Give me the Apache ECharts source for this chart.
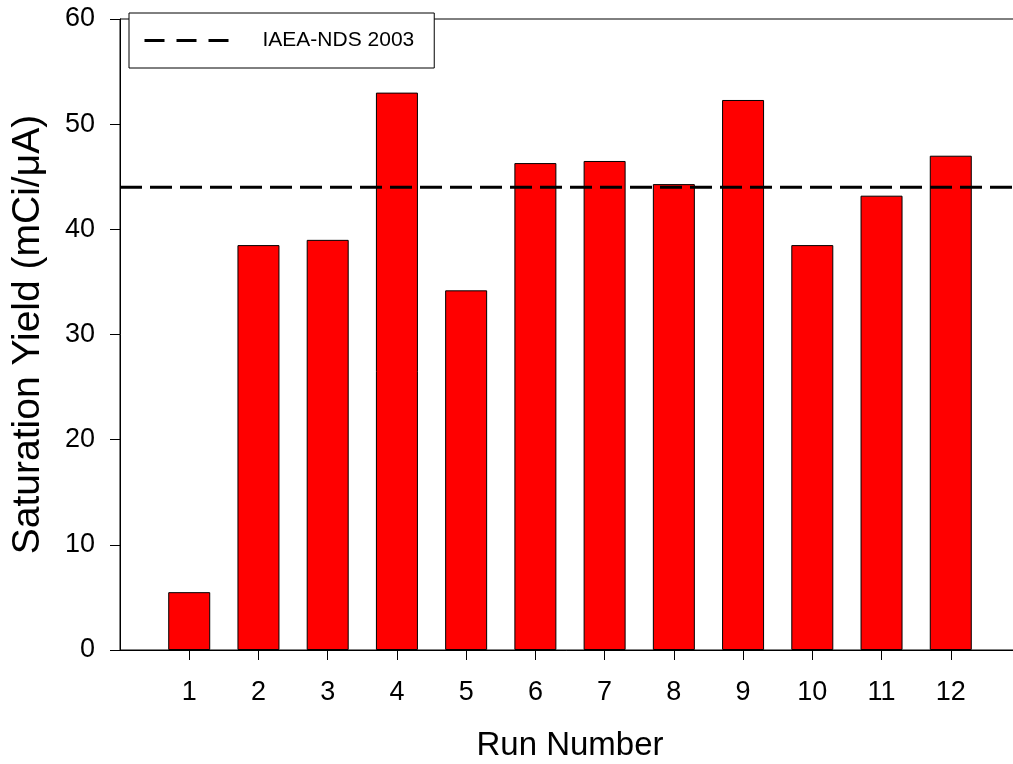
<!DOCTYPE html>
<html>
<head>
<meta charset="utf-8">
<title>Saturation Yield by Run</title>
<script src="https://cdn.jsdelivr.net/npm/echarts@6/dist/echarts.min.js"></script>
<style>
  html, body { margin: 0; padding: 0; background: #fff; }
  #chart { width: 1013px; height: 764px; }
</style>
</head>
<body>
<div id="chart"></div>
<script>
// Run numbers and measured saturation yields (mCi/uA)
const runs = [1, 2, 3, 4, 5, 6, 7, 8, 9, 10, 11, 12];
const yields = [5.5, 38.5, 39.0, 53.0, 34.2, 46.3, 46.5, 44.3, 52.3, 38.5, 43.2, 47.0];

// Reference value (IAEA-NDS 2003)
const refName = 'IAEA-NDS 2003';
const refValue = 44;

// Axis ranges / ticks
const xMin = 0;
const xMax = 13;
const yTicks = [0, 10, 20, 30, 40, 50, 60];

const font = 'Arial, "Liberation Sans", sans-serif';

const chart = echarts.init(document.getElementById('chart'));

chart.setOption({
  animation: false,
  backgroundColor: '#ffffff',
  grid: {
    left: 120,
    top: 19,
    bottom: 114,
    right: -7,
    outerBoundsMode: 'none',
    containLabel: false,
    show: true,
    borderColor: '#000',
    borderWidth: 1,
    backgroundColor: 'transparent'
  },
  legend: {
    data: [{ name: refName, itemStyle: { opacity: 0 } }],
    left: 129,
    top: 13,
    orient: 'horizontal',
    backgroundColor: '#fff',
    borderColor: '#000',
    borderWidth: 1,
    padding: [17, 20, 17, 14],
    itemWidth: 85,
    itemHeight: 20,
    lineStyle: { color: '#000', width: 3, type: [20, 12] },
    textStyle: {
      fontFamily: font,
      fontSize: 21,
      color: '#000',
      padding: [0, 0, 0, 28]
    }
  },
  xAxis: {
    type: 'value',
    min: xMin,
    max: xMax,
    interval: 1,
    name: 'Run Number',
    nameLocation: 'middle',
    nameGap: 79,
    nameTextStyle: { fontFamily: font, fontSize: 33, color: '#000' },
    axisLine: { lineStyle: { color: '#000', width: 1 } },
    axisTick: {
      customValues: runs,
      length: 10,
      inside: false,
      lineStyle: { color: '#000', width: 1 }
    },
    axisLabel: {
      customValues: runs,
      fontFamily: font,
      fontSize: 27,
      color: '#000',
      margin: 29
    },
    splitLine: { show: false }
  },
  yAxis: {
    type: 'value',
    min: yTicks[0],
    max: yTicks[yTicks.length - 1],
    interval: 10,
    name: 'Saturation Yield (mCi/\u03bcA)',
    nameLocation: 'middle',
    nameGap: 72,
    nameTextStyle: { fontFamily: font, fontSize: 39, color: '#000' },
    axisLine: { show: true, lineStyle: { color: '#000', width: 1 } },
    axisTick: { show: true, length: 10, inside: false, lineStyle: { color: '#000', width: 1 } },
    axisLabel: { fontFamily: font, fontSize: 27, color: '#000', margin: 25, padding: [4, 0, 0, 0] },
    splitLine: { show: false }
  },
  series: [
    {
      name: 'Saturation Yield',
      type: 'bar',
      barWidth: 42,
      data: runs.map((r, i) => [r, yields[i]]),
      itemStyle: { color: '#ff0000', borderColor: '#000', borderWidth: 1 },
      z: 2
    },
    {
      name: refName,
      type: 'line',
      data: [[xMin, refValue], [xMax, refValue]],
      symbol: 'none',
      showSymbol: false,
      lineStyle: { color: '#000', width: 3, type: [22, 8] },
      itemStyle: { color: '#000' },
      z: 3
    }
  ]
});
</script>
</body>
</html>
